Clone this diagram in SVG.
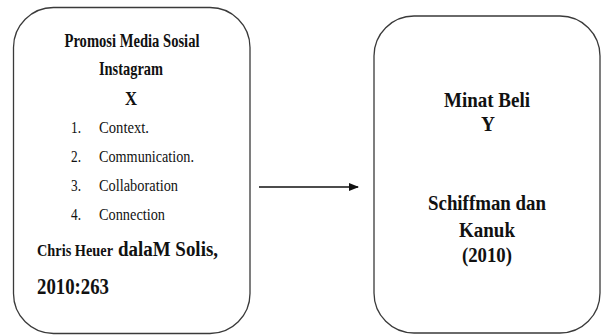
<svg xmlns="http://www.w3.org/2000/svg" width="606" height="336" viewBox="0 0 606 336">
<style>
.box{fill:#fff;stroke:#3a3a3a;stroke-width:1.3}
.t{font-family:'Liberation Serif','Times New Roman','DejaVu Serif',serif;fill:#111}
.b{font-weight:bold}
.c{text-anchor:middle}
</style>
<defs>
<marker id="ah" markerWidth="10" markerHeight="8" refX="9" refY="4" orient="auto" markerUnits="userSpaceOnUse">
<path d="M0,0 L10,4 L0,8 Z" fill="#111"/>
</marker>
</defs>
<rect width="606" height="336" fill="#fff"/>
<g id="node-x" class="t" font-family="Liberation Serif, serif">
<rect class="box" x="13.5" y="7.5" width="236.5" height="326" rx="40" ry="40"/>
<text class="b c" x="132" y="47" font-size="18" textLength="135" lengthAdjust="spacingAndGlyphs">Promosi Media Sosial</text>
<text class="b c" x="131" y="75" font-size="19" textLength="64" lengthAdjust="spacingAndGlyphs">Instagram</text>
<text class="b c" x="131" y="105" font-size="18" textLength="12" lengthAdjust="spacingAndGlyphs">X</text>
<text x="71" y="133" font-size="16" textLength="10" lengthAdjust="spacingAndGlyphs">1.</text>
<text x="99" y="133" font-size="16" textLength="50" lengthAdjust="spacingAndGlyphs">Context.</text>
<text x="71" y="162" font-size="16" textLength="10" lengthAdjust="spacingAndGlyphs">2.</text>
<text x="99" y="162" font-size="16" textLength="95" lengthAdjust="spacingAndGlyphs">Communication.</text>
<text x="71" y="191" font-size="16" textLength="10" lengthAdjust="spacingAndGlyphs">3.</text>
<text x="99" y="191" font-size="16" textLength="79" lengthAdjust="spacingAndGlyphs">Collaboration</text>
<text x="71" y="220" font-size="16" textLength="10" lengthAdjust="spacingAndGlyphs">4.</text>
<text x="99" y="220" font-size="16" textLength="66" lengthAdjust="spacingAndGlyphs">Connection</text>
<text class="b" x="37" y="256" font-size="16" textLength="76" lengthAdjust="spacingAndGlyphs">Chris Heuer</text>
<text class="b" x="118" y="256" font-size="20" textLength="100" lengthAdjust="spacingAndGlyphs">dalaM Solis,</text>
<text class="b" x="37" y="294" font-size="23" textLength="72" lengthAdjust="spacingAndGlyphs">2010:263</text>
</g>
<g id="node-y" class="t" font-family="Liberation Serif, serif">
<rect class="box" x="374" y="16" width="226" height="317" rx="40" ry="40"/>
<text class="b c" x="487" y="107" font-size="22" textLength="86" lengthAdjust="spacingAndGlyphs">Minat Beli</text>
<text class="b c" x="488" y="131" font-size="21" textLength="14" lengthAdjust="spacingAndGlyphs">Y</text>
<text class="b c" x="487" y="210" font-size="20" textLength="118" lengthAdjust="spacingAndGlyphs">Schiffman dan</text>
<text class="b c" x="487" y="237" font-size="20" textLength="56" lengthAdjust="spacingAndGlyphs">Kanuk</text>
<text class="b c" x="487" y="262" font-size="20" textLength="50" lengthAdjust="spacingAndGlyphs">(2010)</text>
</g>
<g id="connectors">
<line x1="259" y1="187" x2="358" y2="187" stroke="#111" stroke-width="1.3" marker-end="url(#ah)"/>
</g>
</svg>
